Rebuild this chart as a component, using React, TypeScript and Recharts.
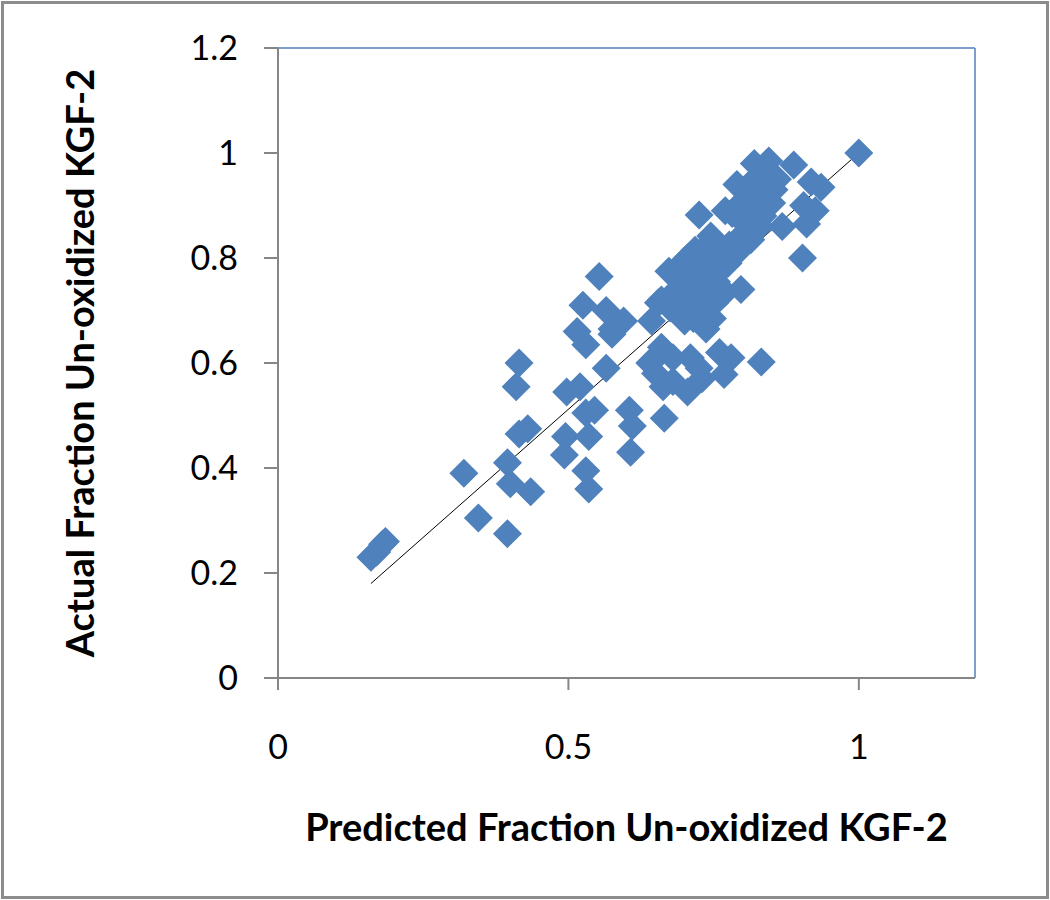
import React from "react"
import {
  ScatterChart,
  Scatter,
  XAxis,
  YAxis,
  ReferenceLine,
} from "recharts"

const predicted = [
  0.16, 0.17, 0.18, 0.185, 0.32, 0.345, 0.395, 0.395, 0.4, 0.435,
  0.415, 0.41, 0.415, 0.43, 0.495, 0.493, 0.497, 0.52, 0.53, 0.545,
  0.535, 0.53, 0.535, 0.553, 0.525, 0.515, 0.53, 0.565, 0.575, 0.595,
  0.565, 0.575, 0.605, 0.61, 0.607, 0.665, 0.64, 0.655, 0.663, 0.65,
  0.68, 0.705, 0.71, 0.73, 0.76, 0.768, 0.78, 0.832, 0.715, 0.737,
  0.748, 0.752, 0.797, 0.77, 0.643, 0.655, 0.673, 0.687, 0.7, 0.718,
  0.725, 0.745, 0.758, 0.777, 0.793, 0.782, 0.814, 0.82, 0.837, 0.845,
  0.854, 0.835, 0.814, 0.83, 0.868, 0.888, 0.918, 0.935, 0.905, 0.925,
  0.91, 0.903, 1.0, 0.69, 0.7, 0.705, 0.72, 0.73, 0.74, 0.76,
  0.775, 0.79, 0.8, 0.8, 0.82, 0.84, 0.85, 0.86, 0.79, 0.825,
  0.69, 0.675, 0.66, 0.7, 0.72, 0.735, 0.755, 0.71, 0.81, 0.84,
  0.77, 0.74, 0.66, 0.68, 0.725,
]

const actual = [
  0.23, 0.24, 0.255, 0.26, 0.39, 0.305, 0.275, 0.41, 0.37, 0.355,
  0.6, 0.555, 0.465, 0.475, 0.46, 0.425, 0.545, 0.555, 0.505, 0.51,
  0.46, 0.395, 0.36, 0.765, 0.71, 0.66, 0.635, 0.7, 0.665, 0.68,
  0.59, 0.655, 0.51, 0.48, 0.43, 0.495, 0.6, 0.615, 0.555, 0.58,
  0.565, 0.545, 0.61, 0.57, 0.62, 0.578, 0.61, 0.602, 0.685, 0.665,
  0.685, 0.715, 0.74, 0.735, 0.68, 0.715, 0.775, 0.74, 0.795, 0.815,
  0.882, 0.842, 0.8, 0.825, 0.9, 0.885, 0.93, 0.98, 0.958, 0.985,
  0.93, 0.88, 0.835, 0.86, 0.86, 0.977, 0.945, 0.935, 0.9, 0.89,
  0.865, 0.8, 1.0, 0.77, 0.76, 0.8, 0.78, 0.76, 0.79, 0.775,
  0.79, 0.81, 0.845, 0.87, 0.905, 0.92, 0.905, 0.95, 0.94, 0.955,
  0.72, 0.705, 0.72, 0.68, 0.7, 0.73, 0.755, 0.745, 0.88, 0.965,
  0.89, 0.825, 0.63, 0.61, 0.59,
]

const xTicks = [0, 0.5, 1]
const yTicks = [0, 0.2, 0.4, 0.6, 0.8, 1, 1.2]

// trend line end points
const fitX = [0.16, 1]
const fitY = [0.18, 1]

const points = predicted.map((x, i) => ({ x, y: actual[i] }))

const Diamond = (props: any) => {
  const { cx, cy } = props
  const r = 14.5
  return (
    <polygon
      points={`${cx},${cy - r} ${cx + r},${cy} ${cx},${cy + r} ${cx - r},${cy}`}
      fill="#4F81BD"
    />
  )
}

const fmt = (v: number) => String(Number(v.toFixed(1)))

const tickStyle = { fill: "#000", fontSize: 34, fontFamily: "Lato" }

const titleStyle = {
  fontFamily: "Lato",
  fontWeight: 700,
  fontSize: 38,
  fill: "#000",
}

const App = () => {
  return (
    <div
      style={{
        position: "absolute",
        left: 0,
        top: 0,
        width: 1050,
        height: 900,
        background: "#fff",
      }}
    >
      <ScatterChart
        width={1050}
        height={900}
        margin={{ top: 48, right: 75, bottom: 0, left: 0 }}
      >
        <XAxis
          type="number"
          dataKey="x"
          domain={[0, 1.2]}
          ticks={xTicks}
          tickFormatter={fmt}
          height={222}
          tickSize={12}
          tickMargin={45}
          tick={tickStyle}
          axisLine={{ stroke: "#868686", strokeWidth: 2 }}
          tickLine={{ stroke: "#868686", strokeWidth: 2 }}
          label={{
            value: "Predicted Fraction Un-oxidized KGF-2",
            position: "center",
            dy: 39,
            style: titleStyle,
          }}
        />
        <YAxis
          type="number"
          dataKey="y"
          domain={[0, 1.2]}
          ticks={yTicks}
          tickFormatter={fmt}
          width={278}
          tickSize={14}
          tickMargin={26}
          tick={tickStyle}
          axisLine={{ stroke: "#868686", strokeWidth: 2 }}
          tickLine={{ stroke: "#868686", strokeWidth: 2 }}
          label={{
            value: "Actual Fraction Un-oxidized KGF-2",
            position: "center",
            angle: -90,
            dx: -58,
            style: { ...titleStyle, textAnchor: "middle" },
          }}
        />
        <ReferenceLine y={1.2} stroke="#4F81BD" strokeWidth={1.5} />
        <ReferenceLine x={1.2} stroke="#4F81BD" strokeWidth={1.5} />
        <Scatter
          data={points}
          shape={Diamond}
          isAnimationActive={false}
        />
        <ReferenceLine
          segment={[
            { x: fitX[0], y: fitY[0] },
            { x: fitX[1], y: fitY[1] },
          ]}
          stroke="#000"
          strokeWidth={1}
        />
      </ScatterChart>
      <div
        style={{
          position: "absolute",
          left: 1,
          top: 1,
          width: 1048,
          height: 898,
          boxSizing: "border-box",
          border: "3px solid #8c8c8c",
          pointerEvents: "none",
        }}
      />
    </div>
  )
}

export default App
